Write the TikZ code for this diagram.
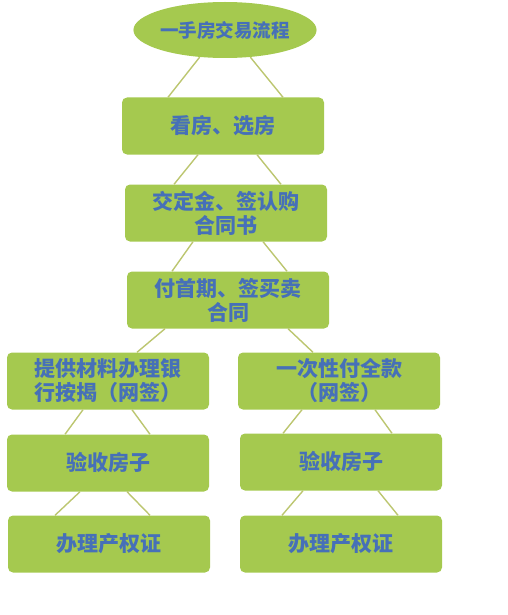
\documentclass[tikz,border=0pt]{standalone}
\usepackage{fontspec}
\newfontfamily\cjk{Noto Sans CJK SC}
\usetikzlibrary{shapes.geometric}
\definecolor{boxgreen}{HTML}{A5C94F}
\definecolor{linkgreen}{HTML}{BCC670}
\definecolor{textblue}{HTML}{4670B8}

\begin{document}
\begin{tikzpicture}[x=1pt,y=-1pt,
    stepbox/.style={rectangle, rounded corners=5pt, fill=boxgreen, minimum width=202pt,
      minimum height=57pt, inner sep=0pt, align=center, text=textblue,
      font=\cjk\bfseries\fontsize{21}{24}\selectfont},
    titlebox/.style={ellipse, fill=boxgreen, minimum width=160pt, minimum height=56pt,
      inner sep=0pt, text=textblue, font=\cjk\bfseries\fontsize{18.5}{22}\selectfont},
    link/.style={draw=linkgreen, line width=1.4pt}]
    \useasboundingbox (0,0) rectangle (507,615);

    \node[titlebox] (title) at (225,30) {一手房交易流程};
    \node[stepbox] (look) at (223,126) {看房、选房};
    \node[stepbox] (deposit) at (226,213) {交定金、签认购\\合同书};
    \node[stepbox] (contract) at (228,300) {付首期、签买卖\\合同};
    \node[stepbox] (loan) at (108,381) {提供材料办理银\\行按揭（网签）};
    \node[stepbox] (cash) at (339,381) {一次性付全款\\（网签）};
    \node[stepbox] (checkL) at (108,463) {验收房子};
    \node[stepbox] (checkR) at (341,462) {验收房子};
    \node[stepbox] (certL) at (109,544) {办理产权证};
    \node[stepbox] (certR) at (341,544) {办理产权证};

    \draw[link] (title.227) -- ([xshift=-55pt]look.north);
    \draw[link] (title.313) -- ([xshift=60pt]look.north);
    \draw[link] ([xshift=-25pt]look.south) -- ([xshift=-52pt]deposit.north);
    \draw[link] ([xshift=34pt]look.south) -- ([xshift=55pt]deposit.north);
    \draw[link] ([xshift=-33pt]deposit.south) -- ([xshift=-56pt]contract.north);
    \draw[link] ([xshift=37pt]deposit.south) -- ([xshift=59pt]contract.north);
    \draw[link] ([xshift=-63pt]contract.south) -- ([xshift=29pt]loan.north);
    \draw[link] ([xshift=60pt]contract.south) -- ([xshift=-26pt]cash.north);
    \draw[link] ([xshift=-25pt]loan.south) -- ([xshift=-43pt]checkL.north);
    \draw[link] ([xshift=24pt]loan.south) -- ([xshift=42pt]checkL.north);
    \draw[link] ([xshift=-37pt]cash.south) -- ([xshift=-58pt]checkR.north);
    \draw[link] ([xshift=36pt]cash.south) -- ([xshift=51pt]checkR.north);
    \draw[link] ([xshift=-28pt]checkL.south) -- ([xshift=-54pt]certL.north);
    \draw[link] ([xshift=19pt]checkL.south) -- ([xshift=41pt]certL.north);
    \draw[link] ([xshift=-38pt]checkR.south) -- ([xshift=-59pt]certR.north);
    \draw[link] ([xshift=37pt]checkR.south) -- ([xshift=57pt]certR.north);
\end{tikzpicture}
\end{document}
